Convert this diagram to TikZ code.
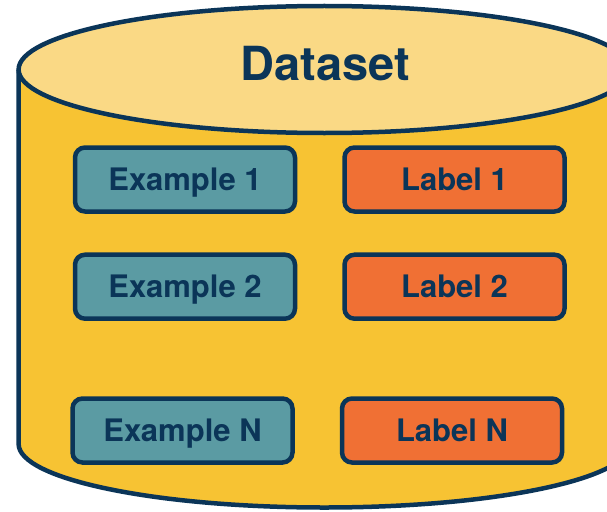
\documentclass[tikz,border=0pt]{standalone}
\usepackage{fontspec}
\setmainfont{TeX Gyre Heros}
\usetikzlibrary{positioning}
\definecolor{navy}{HTML}{0B3558}
\definecolor{teal}{HTML}{5B9BA3}
\definecolor{carrot}{HTML}{F07034}
\definecolor{mustard}{HTML}{F7C333}
\definecolor{cream}{HTML}{FAD985}
\tikzstyle{item} = [rectangle, text centered, minimum width=220pt, minimum height=64pt,
    rounded corners=10pt, line width=4.5pt, text height=22pt, text depth=0pt,
    draw=navy, text=navy, font=\fontsize{31}{34}\selectfont\bfseries]
\tikzstyle{example} = [item, fill=teal]
\tikzstyle{label} = [item, fill=carrot]
\tikzstyle{body} = [fill=mustard]
\tikzstyle{rim} = [draw=navy, line width=4.5pt]
\tikzstyle{lid} = [rim, fill=cream]

\begin{document}
\begin{tikzpicture}[%
x=1pt,y=-1pt,
node distance=45pt,
]
\useasboundingbox (0,0) rectangle (607,511);
\clip (0,0) rectangle (607,511);

% the drum
\fill[body] (18.6,69.5) -- (18.6,444)
    arc[start angle=180,end angle=360,x radius=305.8,y radius=-63.5]
    -- (630.2,69.5) -- cycle;
\draw[rim] (18.6,69.5) -- (18.6,444)
    arc[start angle=180,end angle=360,x radius=305.8,y radius=-63.5]
    -- (630.2,69.5);
\draw[lid] (324.4,69.5) ellipse [x radius=305.8, y radius=63.5];
\node[text=navy,font=\fontsize{47}{50}\selectfont\bfseries] (title) at (325,64) {Dataset};

% rows
\node[example] (ex1) at (185,179.5) {Example 1};
\node[label,right=of ex1] (lab1) {Label 1};
\node[example,below=38.7pt of ex1] (ex2) {Example 2};
\node[label,right=of ex2] (lab2) {Label 2};
\node[example,below=75.3pt of ex2,xshift=-2.5pt] (exN) {Example N};
\node[label,right=of exN] (labN) {Label N};

\end{tikzpicture}
\end{document}
